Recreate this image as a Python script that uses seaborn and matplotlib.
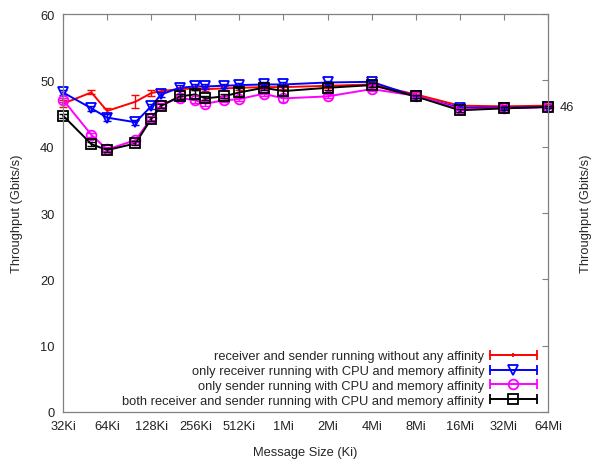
import numpy as np
import pandas as pd
import matplotlib
matplotlib.use("Agg")
import matplotlib.pyplot as plt
import seaborn as sns
from matplotlib.lines import Line2D
from matplotlib.legend_handler import HandlerLine2D, HandlerTuple

# message sizes in Ki
sizes = [32, 50, 64, 100, 128, 150, 200, 256, 300, 400, 512, 750, 1024,
         2048, 4096, 8192, 16384, 32768, 65536]

labels = ['receiver and sender running without any affinity',
          'only receiver running with CPU and memory affinity',
          'only sender running with CPU and memory affinity',
          'both receiver and sender running with CPU and memory affinity']

no_aff   = [46.5, 48.2, 45.4, 46.8, 48.1, 48.4, 48.7, 48.8, 48.7, 48.8, 48.9, 49.0, 49.0,
            49.2, 49.4, 47.9, 46.2, 46.1, 46.2]
recv_aff = [48.2, 45.8, 44.4, 43.7, 46.1, 47.9, 48.9, 49.1, 49.1, 49.2, 49.3, 49.4, 49.4,
            49.7, 49.8, 47.6, 45.9, 45.9, 46.0]
send_aff = [47.1, 41.8, 39.6, 41.0, 44.3, 46.3, 47.4, 47.0, 46.5, 47.0, 47.2, 48.0, 47.3,
            47.6, 48.7, 47.7, 45.7, 45.8, 46.0]
both_aff = [44.7, 40.4, 39.5, 40.5, 44.2, 46.2, 47.6, 47.9, 47.3, 47.6, 48.2, 48.9, 48.4,
            48.9, 49.3, 47.6, 45.5, 45.8, 46.0]

no_aff_err   = [0.5, 0.3, 0.5, 1.0, 0.4, 0.3, 0.3, 0.3, 0.3, 0.3, 0.3, 0.3, 0.3,
                0.3, 0.3, 0.3, 0.2, 0.2, 0.2]
recv_aff_err = [0.4, 0.4, 0.5, 0.4, 0.4, 0.4, 0.4, 0.4, 0.4, 0.3, 0.3, 0.3, 0.3,
                0.2, 0.2, 0.2, 0.2, 0.2, 0.2]
send_aff_err = [0.3, 0.3, 0.3, 0.3, 0.3, 0.3, 0.5, 0.4, 0.4, 0.3, 0.3, 0.3, 0.5,
                0.3, 0.3, 0.2, 0.2, 0.2, 0.2]
both_aff_err = [0.3, 0.3, 0.3, 0.3, 0.3, 0.3, 0.4, 0.7, 0.3, 0.3, 0.7, 0.3, 0.7,
                0.3, 0.3, 0.2, 0.2, 0.2, 0.2]

xtick_vals = [32, 64, 128, 256, 512, 1024, 2048, 4096, 8192, 16384, 32768, 65536]
xtick_labels = ['32Ki', '64Ki', '128Ki', '256Ki', '512Ki', '1Mi', '2Mi', '4Mi',
                '8Mi', '16Mi', '32Mi', '64Mi']

colors = ['#ff0000', '#0000ff', '#ff00ff', '#000000']
markers = ['', 'v', 'o', 's']
series = [no_aff, recv_aff, send_aff, both_aff]
errs = [no_aff_err, recv_aff_err, send_aff_err, both_aff_err]

df = pd.concat([pd.DataFrame({'size': sizes, 'tput': s, 'err': e, 'config': l})
                for s, e, l in zip(series, errs, labels)], ignore_index=True)

sns.set_theme(style='white')
plt.rcParams['font.family'] = ['Liberation Sans', 'DejaVu Sans']
fs = 9.3

fig = plt.figure(figsize=(5.96, 4.60), dpi=100)
ax = fig.add_axes([0.1057, 0.1022, 0.8138, 0.8648])

sns.lineplot(data=df, x='size', y='tput', hue='config', hue_order=labels,
             palette=colors, estimator=None, sort=False, linewidth=1.4,
             legend=False, ax=ax, clip_on=False)
handles = []
for l, c, m in zip(labels, colors, markers):
    sub = df[df['config'] == l]
    eb = ax.errorbar(sub['size'], sub['tput'], yerr=sub['err'], fmt='none',
                     ecolor=c, elinewidth=1.0, capsize=3, capthick=1.0)
    for art in eb.get_children():
        art.set_clip_on(False)
    if m:
        ax.plot(sub['size'], sub['tput'], linestyle='none', marker=m,
                markersize=7, markerfacecolor='none', markeredgecolor=c,
                markeredgewidth=1.3, clip_on=False)
    caps = Line2D([], [], color=c, lw=1.4, marker='|', markersize=7, markeredgewidth=1.3)
    mk = Line2D([], [], color=c, lw=0, marker=m if m else '|',
                markersize=7 if m else 3, markerfacecolor='none',
                markeredgecolor=c, markeredgewidth=1.3)
    handles.append((caps, mk))

ax.set_xscale('log', base=2)
ax.set_xlim(32, 65536)
ax.set_ylim(0, 60)
ax.set_xticks(xtick_vals)
ax.set_xticklabels(xtick_labels)
ax.minorticks_off()
ax.set_yticks(range(0, 61, 10))
ax.tick_params(direction='in', length=4, width=0.8, color='#808080',
               top=True, right=True, labelsize=fs, pad=6, labelcolor='#222222')
for sp in ax.spines.values():
    sp.set_color('#808080')
    sp.set_linewidth(0.9)

ax.set_xlabel('Message Size (Ki)', fontsize=fs, labelpad=10)
ax.set_ylabel('Throughput (Gbits/s)', fontsize=fs, labelpad=12)
fig.text(0.983, 0.535, 'Throughput (Gbits/s)', rotation=90, va='center',
         ha='center', fontsize=fs)
ax.text(65536 * 1.21, both_aff[-1], '%.0f' % both_aff[-1], va='center',
        ha='left', fontsize=fs)

hmap = {}
for h in handles:
    hmap[h[0]] = HandlerLine2D(numpoints=2)
leg = ax.legend(handles, labels, loc='lower right', frameon=False,
                markerfirst=False, handlelength=4.2, handletextpad=0.15,
                labelspacing=0.22, borderaxespad=0.0, fontsize=fs,
                bbox_to_anchor=(0.995, 0.0),
                handler_map={tuple: HandlerTuple(ndivide=1), **hmap})

fig.savefig('out.png', dpi=100)
